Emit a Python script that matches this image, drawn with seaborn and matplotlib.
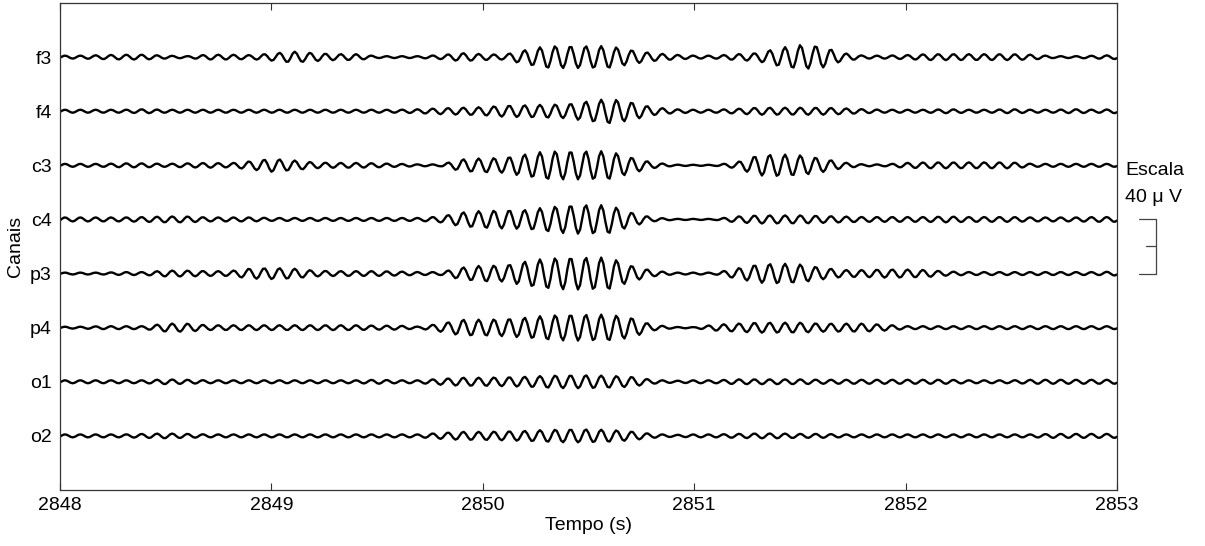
import numpy as np
import pandas as pd
import matplotlib
matplotlib.use("Agg")
import matplotlib.pyplot as plt
import seaborn as sns

# ---------------- data ----------------
canais = ["f3", "f4", "c3", "c4", "p3", "p4", "o1", "o2"]
offsets_uv = [320, 280, 240, 200, 160, 120, 80, 40]   # vertical offset of each trace (µV)
t_inicio, t_fim = 2848.0, 2853.0
xticks = [2848, 2849, 2850, 2851, 2852, 2853]
freq_hz = 13.8          # sigma-band carrier read from peak spacing
t_pico = 2850.27        # time of one spindle peak (phase reference)
fs_hz = 100             # sampling rate of the traces
escala_uv = 40

# amplitude envelope (µV) read every 0.1 s from 2848.0 to 2853.0
env_t = [2848.0 + 0.1 * i for i in range(51)]
env_f3 = [1.1, 1.1, 1.5, 1.8, 1.8, 1.1, 0.7, 1.8, 1.8, 1.5,
          2.6, 4.1, 3.0, 2.2, 2.2, 0.7, 0.7, 0.7, 1.5, 3.0,
          2.2, 1.8, 5.2, 8.1, 8.1, 8.1, 8.1, 5.2, 3.0, 1.8,
          1.1, 1.1, 2.2, 3.0, 6.7, 8.9, 8.1, 3.0, 1.1, 1.1,
          1.5, 2.2, 2.2, 2.2, 2.2, 2.2, 1.8, 0.7, 0.7, 1.1, 1.5]
env_f4 = [1.1, 1.1, 1.1, 1.1, 1.5, 1.1, 1.1, 1.1, 1.1, 1.1,
          1.1, 1.1, 1.1, 1.1, 1.1, 1.1, 1.1, 1.5, 2.2, 2.6,
          3.0, 4.1, 4.4, 4.8, 5.2, 7.4, 9.2, 6.7, 3.0, 1.5,
          1.1, 1.1, 1.8, 2.6, 2.6, 2.6, 2.6, 2.2, 1.5, 1.1,
          1.1, 1.1, 1.5, 1.1, 1.1, 1.5, 1.1, 1.1, 1.5, 1.1, 1.5]
env_c3 = [1.1, 1.1, 1.1, 1.5, 1.5, 1.1, 1.5, 1.8, 1.5, 3.0,
          4.8, 3.7, 2.2, 1.8, 1.8, 1.5, 1.1, 0.7, 0.7, 4.4,
          5.2, 5.5, 8.1, 10.4, 10.4, 10.4, 10.4, 5.9, 2.2, 0.5,
          0.4, 0.4, 2.2, 7.4, 8.1, 7.4, 5.2, 2.2, 0.7, 0.7,
          1.8, 2.2, 2.2, 2.2, 2.2, 2.2, 1.1, 1.1, 1.1, 1.1, 1.1]
env_c4 = [1.5, 1.5, 1.5, 1.5, 1.8, 2.2, 2.2, 1.5, 1.5, 1.5,
          1.1, 1.1, 1.1, 1.1, 1.1, 1.1, 1.1, 1.1, 2.2, 5.2,
          6.3, 6.7, 7.0, 8.9, 10.4, 10.7, 10.4, 5.2, 1.5, 0.4,
          0.4, 0.4, 2.2, 3.0, 3.0, 3.0, 2.6, 2.2, 1.8, 1.8,
          1.8, 1.8, 2.2, 1.8, 1.8, 1.8, 1.5, 1.5, 1.5, 1.8, 1.8]
env_p3 = [0.7, 0.7, 0.7, 1.1, 1.1, 2.2, 2.2, 1.8, 1.8, 3.7,
          4.1, 3.7, 2.2, 1.8, 1.8, 1.8, 1.5, 1.1, 1.1, 4.4,
          5.9, 5.9, 8.9, 11.1, 11.8, 11.8, 11.8, 5.9, 2.2, 0.7,
          0.7, 0.7, 3.7, 6.7, 7.4, 6.7, 4.4, 2.6, 2.6, 3.0,
          3.0, 2.6, 1.5, 1.1, 1.1, 1.1, 1.1, 1.1, 1.1, 1.1, 1.5]
env_p4 = [0.7, 0.7, 1.1, 1.1, 1.1, 3.0, 3.0, 1.8, 1.8, 1.8,
          1.8, 1.8, 1.8, 1.8, 1.8, 1.5, 1.5, 0.7, 3.0, 5.9,
          5.9, 6.3, 7.4, 8.9, 9.6, 9.6, 9.6, 7.4, 2.2, 0.5,
          0.4, 2.2, 3.0, 3.7, 3.7, 3.7, 3.0, 3.0, 3.0, 2.2,
          1.1, 1.1, 1.1, 1.1, 1.1, 1.1, 1.1, 1.1, 1.1, 1.1, 1.1]
env_o1 = [1.1, 1.1, 1.1, 1.1, 1.1, 1.8, 1.5, 1.1, 1.1, 1.1,
          1.1, 1.1, 1.1, 1.1, 1.1, 1.5, 1.1, 1.1, 2.2, 3.0,
          3.0, 3.3, 3.7, 4.4, 4.8, 4.8, 4.4, 3.7, 1.5, 0.7,
          1.1, 1.1, 1.8, 1.8, 1.8, 1.8, 1.5, 1.5, 1.5, 1.5,
          1.5, 1.5, 1.5, 1.1, 1.1, 1.1, 1.5, 1.5, 1.5, 1.5, 1.5]
env_o2 = [1.1, 1.1, 1.1, 1.1, 1.5, 1.8, 1.5, 1.1, 1.1, 1.1,
          1.1, 1.1, 1.1, 1.1, 1.1, 1.1, 1.1, 1.1, 2.2, 3.0,
          3.0, 3.3, 3.7, 4.4, 4.8, 4.8, 4.4, 3.3, 1.5, 0.7,
          1.1, 1.1, 1.5, 1.8, 1.8, 1.5, 1.5, 1.1, 1.1, 1.1,
          1.1, 1.1, 1.1, 1.1, 1.1, 1.1, 1.1, 1.5, 1.5, 1.5, 1.5]
envelopes = [env_f3, env_f4, env_c3, env_c4, env_p3, env_p4, env_o1, env_o2]

# ---------------- build long-form table ----------------
t = np.arange(t_inicio, t_fim + 1e-9, 1.0 / fs_hz)
carrier = np.cos(2 * np.pi * freq_hz * (t - t_pico))
frames = []
for nome, off, env in zip(canais, offsets_uv, envelopes):
    amp = np.interp(t, env_t, env)
    frames.append(pd.DataFrame({"t": t, "uv": off + amp * carrier, "canal": nome}))
df = pd.concat(frames, ignore_index=True)

# ---------------- plot ----------------
sns.set_style("white")
plt.rcParams["font.family"] = ["Liberation Sans", "DejaVu Sans"]
plt.rcParams["font.size"] = 14
for k in ["text.color", "axes.labelcolor", "xtick.color", "ytick.color"]:
    plt.rcParams[k] = "black"

fig = plt.figure(figsize=(12.05, 5.46), dpi=100)
ax = fig.add_axes([0.0498, 0.1026, 0.8772, 0.8919])

sns.lineplot(data=df, x="t", y="uv", units="canal", estimator=None,
             color="black", linewidth=1.7, sort=False, ax=ax, legend=False)

ax.set_xlim(t_inicio, t_fim)
ax.set_ylim(0, 360)
ax.set_xticks(xticks)
ax.set_xticklabels([str(v) for v in xticks], fontsize=14)
ax.set_yticks(offsets_uv)
ax.set_yticklabels(canais, fontsize=14)
ax.tick_params(axis="x", direction="in", length=5, top=True, bottom=True,
               width=0.8, color="#333333", pad=5)
ax.tick_params(axis="y", length=0, pad=6)
for s in ax.spines.values():
    s.set_visible(True)
    s.set_color("#333333")
    s.set_linewidth(0.9)
ax.set_xlabel("Tempo (s)", fontsize=14, labelpad=2)
ax.set_ylabel("Canais", fontsize=14, labelpad=4)

# scale bar (40 µV) outside the axes, between c4 and p3 baselines
xb0, xb1, xbm = 2853.104, 2853.184, 2853.137
ytop = offsets_uv[3]
ybot = ytop - escala_uv
kw = dict(color="#444444", linewidth=0.9, clip_on=False)
ax.plot([xb0, xb1], [ytop, ytop], **kw)
ax.plot([xb1, xb1], [ytop, ybot], **kw)
ax.plot([xb0, xb1], [ybot, ybot], **kw)
ax.plot([xbm, xb1], [(ytop + ybot) / 2] * 2, **kw)
ax.text(2853.04, 236.5, "Escala", fontsize=14, va="center", ha="left")
ax.text(2853.04, 216, f"{escala_uv} \u03bc V", fontsize=14, va="center", ha="left")

fig.savefig("out.png", dpi=100)
